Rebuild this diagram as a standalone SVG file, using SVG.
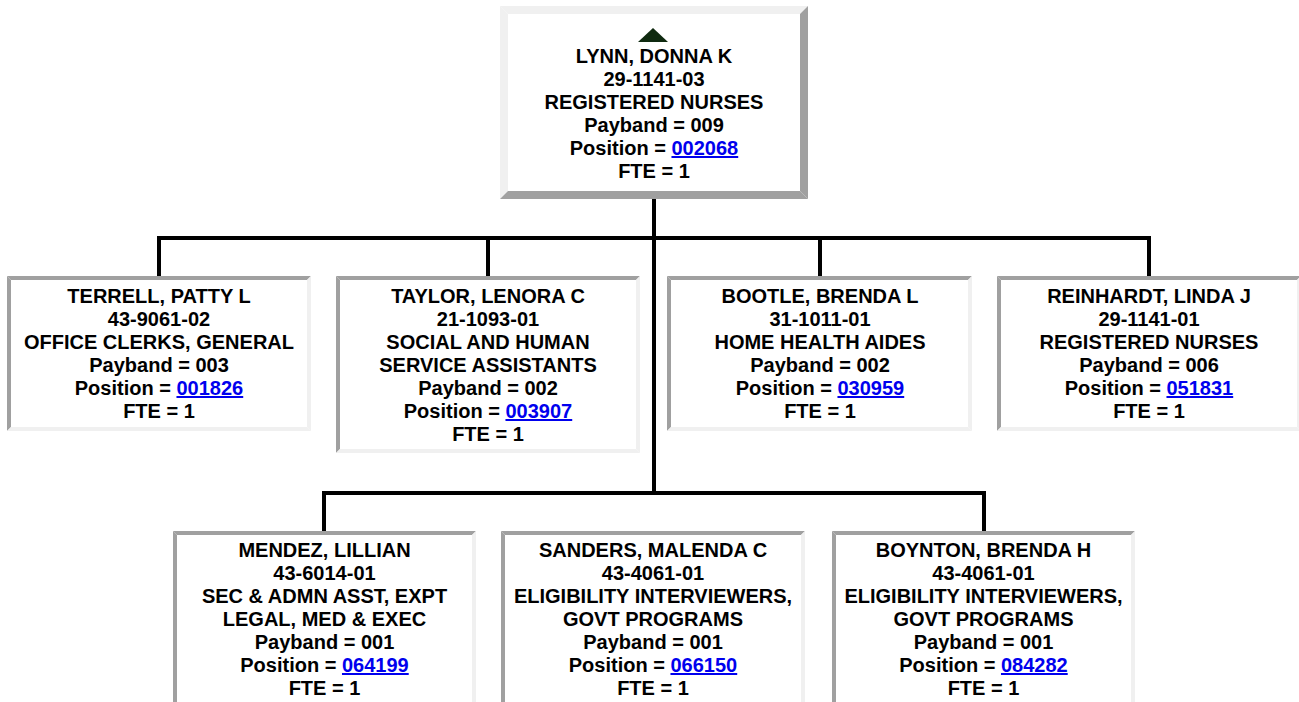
<svg xmlns="http://www.w3.org/2000/svg" width="1299" height="702" viewBox="0 0 1299 702">
<defs>
<style>
.lt{fill:#f0f0f0}
.dk{fill:#a0a0a0}
.in{fill:#ffffff}
text{font-family:"Liberation Sans",Arial,sans-serif;font-weight:bold;font-size:20px;fill:#000;text-anchor:middle}
.lk{fill:#0000ee;text-decoration:underline}
.cn{stroke:#000;stroke-width:4;fill:none}
</style>
</defs>
<rect x="0" y="0" width="1299" height="702" fill="#ffffff"/>
<g id="connectors">
<path class="cn" d="M654 199V493"/>
<path class="cn" d="M157 238H1151"/>
<path class="cn" d="M159 238V276M488 238V276M820 238V276M1149 238V276"/>
<path class="cn" d="M322 493H986"/>
<path class="cn" d="M324 493V531M984 493V531"/>
</g>
<g id="node-lynn">
<rect class="in" x="500" y="6" width="308" height="193"/>
<polygon class="lt" points="500,6 808,6 800,14 508,14"/>
<polygon class="lt" points="500,6 508,14 508,191 500,199"/>
<polygon class="dk" points="500,199 508,191 800,191 808,199"/>
<polygon class="dk" points="808,6 808,199 800,191 800,14"/>
<polygon points="638,42 668,42 653,28" fill="#0f2a10"/>
<text x="654" y="63">LYNN, DONNA K</text>
<text x="654" y="86">29-1141-03</text>
<text x="654" y="109">REGISTERED NURSES</text>
<text x="654" y="132">Payband = 009</text>
<text x="654" y="155">Position = <tspan class="lk">002068</tspan></text>
<text x="654" y="178">FTE = 1</text>
</g>
<g id="node-terrell">
<rect class="in" x="7" y="276" width="304" height="155"/>
<polygon class="dk" points="7,276 311,276 307,280 11,280"/>
<polygon class="dk" points="7,276 11,280 11,427 7,431"/>
<polygon class="lt" points="7,431 11,427 307,427 311,431"/>
<polygon class="lt" points="311,276 311,431 307,427 307,280"/>
<text x="159" y="303">TERRELL, PATTY L</text>
<text x="159" y="326">43-9061-02</text>
<text x="159" y="349">OFFICE CLERKS, GENERAL</text>
<text x="159" y="372">Payband = 003</text>
<text x="159" y="395">Position = <tspan class="lk">001826</tspan></text>
<text x="159" y="418">FTE = 1</text>
</g>
<g id="node-taylor">
<rect class="in" x="336" y="276" width="304" height="177"/>
<polygon class="dk" points="336,276 640,276 636,280 340,280"/>
<polygon class="dk" points="336,276 340,280 340,449 336,453"/>
<polygon class="lt" points="336,453 340,449 636,449 640,453"/>
<polygon class="lt" points="640,276 640,453 636,449 636,280"/>
<text x="488" y="303">TAYLOR, LENORA C</text>
<text x="488" y="326">21-1093-01</text>
<text x="488" y="349">SOCIAL AND HUMAN</text>
<text x="488" y="372">SERVICE ASSISTANTS</text>
<text x="488" y="395">Payband = 002</text>
<text x="488" y="418">Position = <tspan class="lk">003907</tspan></text>
<text x="488" y="441">FTE = 1</text>
</g>
<g id="node-bootle">
<rect class="in" x="667" y="276" width="305" height="155"/>
<polygon class="dk" points="667,276 972,276 968,280 671,280"/>
<polygon class="dk" points="667,276 671,280 671,427 667,431"/>
<polygon class="lt" points="667,431 671,427 968,427 972,431"/>
<polygon class="lt" points="972,276 972,431 968,427 968,280"/>
<text x="820" y="303">BOOTLE, BRENDA L</text>
<text x="820" y="326">31-1011-01</text>
<text x="820" y="349">HOME HEALTH AIDES</text>
<text x="820" y="372">Payband = 002</text>
<text x="820" y="395">Position = <tspan class="lk">030959</tspan></text>
<text x="820" y="418">FTE = 1</text>
</g>
<g id="node-reinhardt">
<rect class="in" x="997" y="276" width="304" height="155"/>
<polygon class="dk" points="997,276 1301,276 1297,280 1001,280"/>
<polygon class="dk" points="997,276 1001,280 1001,427 997,431"/>
<polygon class="lt" points="997,431 1001,427 1297,427 1301,431"/>
<polygon class="lt" points="1301,276 1301,431 1297,427 1297,280"/>
<text x="1149" y="303">REINHARDT, LINDA J</text>
<text x="1149" y="326">29-1141-01</text>
<text x="1149" y="349">REGISTERED NURSES</text>
<text x="1149" y="372">Payband = 006</text>
<text x="1149" y="395">Position = <tspan class="lk">051831</tspan></text>
<text x="1149" y="418">FTE = 1</text>
</g>
<g id="node-mendez">
<rect class="in" x="173" y="531" width="303" height="190"/>
<polygon class="dk" points="173,531 476,531 472,535 177,535"/>
<polygon class="dk" points="173,531 177,535 177,717 173,721"/>
<polygon class="lt" points="476,531 476,721 472,717 472,535"/>
<text x="324.5" y="557">MENDEZ, LILLIAN</text>
<text x="324.5" y="580">43-6014-01</text>
<text x="324.5" y="603">SEC &amp; ADMN ASST, EXPT</text>
<text x="324.5" y="626">LEGAL, MED &amp; EXEC</text>
<text x="324.5" y="649">Payband = 001</text>
<text x="324.5" y="672">Position = <tspan class="lk">064199</tspan></text>
<text x="324.5" y="695">FTE = 1</text>
</g>
<g id="node-sanders">
<rect class="in" x="501" y="531" width="304" height="190"/>
<polygon class="dk" points="501,531 805,531 801,535 505,535"/>
<polygon class="dk" points="501,531 505,535 505,717 501,721"/>
<polygon class="lt" points="805,531 805,721 801,717 801,535"/>
<text x="653" y="557">SANDERS, MALENDA C</text>
<text x="653" y="580">43-4061-01</text>
<text x="653" y="603">ELIGIBILITY INTERVIEWERS,</text>
<text x="653" y="626">GOVT PROGRAMS</text>
<text x="653" y="649">Payband = 001</text>
<text x="653" y="672">Position = <tspan class="lk">066150</tspan></text>
<text x="653" y="695">FTE = 1</text>
</g>
<g id="node-boynton">
<rect class="in" x="832" y="531" width="303" height="190"/>
<polygon class="dk" points="832,531 1135,531 1131,535 836,535"/>
<polygon class="dk" points="832,531 836,535 836,717 832,721"/>
<polygon class="lt" points="1135,531 1135,721 1131,717 1131,535"/>
<text x="983.5" y="557">BOYNTON, BRENDA H</text>
<text x="983.5" y="580">43-4061-01</text>
<text x="983.5" y="603">ELIGIBILITY INTERVIEWERS,</text>
<text x="983.5" y="626">GOVT PROGRAMS</text>
<text x="983.5" y="649">Payband = 001</text>
<text x="983.5" y="672">Position = <tspan class="lk">084282</tspan></text>
<text x="983.5" y="695">FTE = 1</text>
</g>
</svg>
